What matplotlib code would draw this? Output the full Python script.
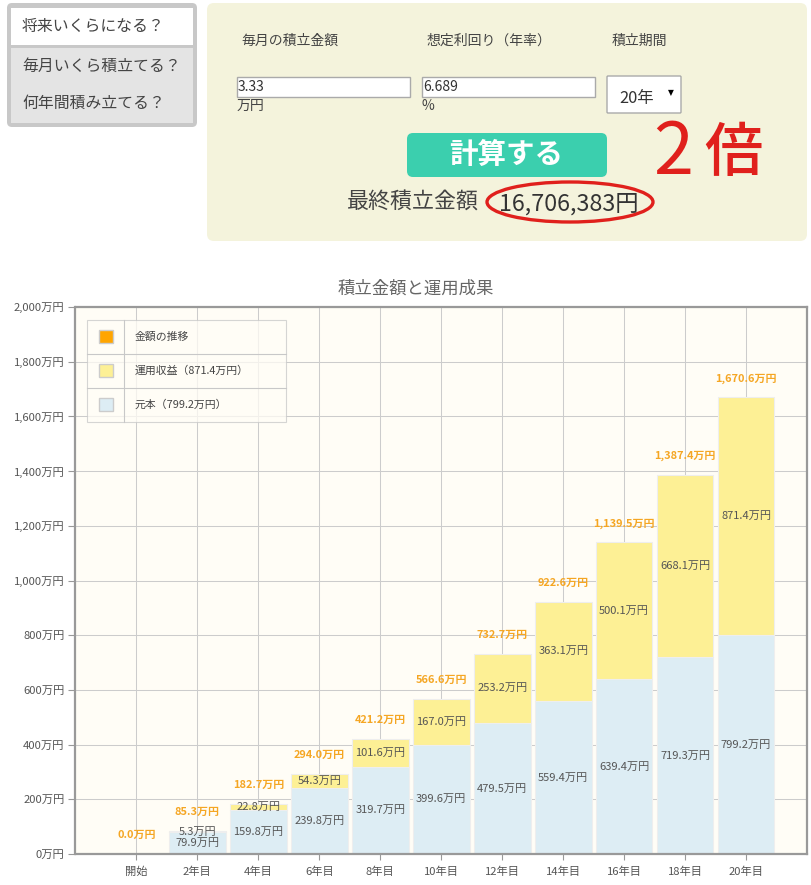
import matplotlib
matplotlib.use('Agg')
import matplotlib.pyplot as plt
from matplotlib.patches import FancyBboxPatch, Rectangle, Ellipse

plt.rcParams['font.family'] = ['Noto Sans CJK JP', 'DejaVu Sans']

categories = ['開始', '2年目', '4年目', '6年目', '8年目', '10年目', '12年目', '14年目', '16年目', '18年目', '20年目']
principal = [0.0, 79.9, 159.8, 239.8, 319.7, 399.6, 479.5, 559.4, 639.4, 719.3, 799.2]
gains = [0.0, 5.3, 22.8, 54.3, 101.6, 167.0, 253.2, 363.1, 500.1, 668.1, 871.4]
totals = [0.0, 85.3, 182.7, 294.0, 421.2, 566.6, 732.7, 922.6, 1139.5, 1387.4, 1670.6]
y_ticks = list(range(0, 2001, 200))
legend_labels = ['金額の推移', '運用収益（871.4万円）', '元本（799.2万円）']

W, H = 812, 885
TEXT = '#555555'
ORANGE = '#f5a623'
YELLOW = '#fdf095'
BLUE = '#ddedf4'

fig = plt.figure(figsize=(W / 100, H / 100), dpi=100, facecolor='white')

# chart, positioned in pixels
L, R, T, B = 75.5, 807, 307, 854
ax = fig.add_axes([L / W, 1 - B / H, (R - L) / W, (B - T) / H], facecolor='#fffdf6')
x = list(range(len(categories)))
ax.bar(x, principal, width=0.93, color=BLUE, edgecolor='#eeeeee', linewidth=0.8, zorder=3)
ax.bar(x, gains, width=0.93, bottom=principal, color=YELLOW, edgecolor='#eeeeee', linewidth=0.8, zorder=3)
ax.set_xlim(-1, 11)
ax.set_ylim(0, 2000)
ax.set_xticks(x, categories)
ax.set_yticks(y_ticks, [f'{v:,}万円' for v in y_ticks])
ax.grid(True, color='#cccccc', linewidth=0.75, zorder=0)
ax.set_axisbelow(True)
ax.tick_params(axis='y', length=5, color='#999999', labelcolor=TEXT, labelsize=8.1, pad=3)
ax.tick_params(axis='x', length=4, color='#999999', labelcolor=TEXT, labelsize=8.1, pad=5)
for s in ax.spines.values():
    s.set_color('#999999')
    s.set_linewidth(1.6)
    s.set_zorder(5)

for i in x:
    ax.annotate(f'{totals[i]:,.1f}万円', (i, totals[i]), xytext=(0, 13.5), textcoords='offset points',
                ha='center', va='center', color=ORANGE, fontsize=7.9, fontweight='bold', zorder=6)
    if principal[i] > 0:
        ax.text(i, principal[i] / 2, f'{principal[i]:.1f}万円', ha='center', va='center',
                color=TEXT, fontsize=8, zorder=6)
        ax.text(i, principal[i] + gains[i] / 2, f'{gains[i]:.1f}万円', ha='center', va='center',
                color=TEXT, fontsize=8, zorder=6)

# overlay in pixel coordinates for the form and legend
ov = fig.add_axes([0, 0, 1, 1], facecolor='none')
ov.set_xlim(0, W)
ov.set_ylim(H, 0)
ov.axis('off')


def box(x0, y0, x1, y1, color, r=4, edge='none', lw=0):
    ov.add_patch(FancyBboxPatch((x0 + r, y0 + r), x1 - x0 - 2 * r, y1 - y0 - 2 * r,
                                boxstyle=f'round,pad={r},rounding_size={r}',
                                facecolor=color, edgecolor=edge, linewidth=lw))


# left tabs
box(7, 3, 197, 127, '#c8c8c8', r=5)
ov.add_patch(Rectangle((11, 8), 182, 37, facecolor='white'))
ov.add_patch(Rectangle((11, 48), 182, 75, facecolor='#e4e4e4'))
for label, y in zip(['将来いくらになる？', '毎月いくら積立てる？', '何年間積み立てる？'], [26.5, 66, 103.5]):
    ov.text(22, y, label, fontsize=11.4, color='#444444', va='center')

# form panel
box(207, 3, 807, 241, '#f4f3dc', r=7)
for label, px in zip(['毎月の積立金額', '想定利回り（年率）', '積立期間'], [241, 427, 612]):
    ov.text(px, 41, label, fontsize=10, color='#444444', va='center')
for px, val, unit in zip([237, 422], ['3.33', '6.689'], ['万円', '%']):
    ov.add_patch(Rectangle((px, 76.5), 173, 20.5, facecolor='white', edgecolor='#aaaaaa', linewidth=1))
    ov.text(px + 1, 87, val, fontsize=10, color='#333333', va='center')
    ov.text(px, 105.5, unit, fontsize=10, color='#444444', va='center')
box(607, 76, 681, 113, 'white', r=1, edge='#aaaaaa', lw=1)
ov.text(619, 98, '20年', fontsize=11.8, color='#333333', va='center')
ov.text(671, 93, '▼', fontsize=5.5, color='black', va='center', ha='center', family='DejaVu Sans')
box(407, 133, 607, 177, '#3bcfae', r=6)
ov.text(506, 155, '計算する', fontsize=20.5, color='white', fontweight='bold', ha='center', va='center')
ov.text(347, 203, '最終積立金額', fontsize=15.8, color='#444444', va='center')
ov.text(499, 204, '16,706,383円', fontsize=16.8, color='#333333', va='center')

# red marker notes
ov.add_patch(Ellipse((570, 202), 166, 40, fill=False, edgecolor='#e0201c', linewidth=2.4))
ov.text(673, 153, '2', fontsize=52, color='#e0201c', ha='center', va='center', fontweight='normal')
ov.text(733, 154, '倍', fontsize=42, color='#e0201c', ha='center', va='center', fontweight='medium')

# chart title
ov.text(416, 289, '積立金額と運用成果', fontsize=12.5, color='#666666', ha='center', va='center')

# legend table
ov.add_patch(Rectangle((87, 319.5), 199, 102, facecolor='#fffdf6', alpha=0.75, edgecolor='#c8c8c8', linewidth=0.8))
ov.plot([124.5, 124.5], [319.5, 421.5], color='#c8c8c8', linewidth=0.8)
for y in [353.5, 387.5]:
    ov.plot([87, 286], [y, y], color='#c8c8c8', linewidth=0.8)
for label, color, y in zip(legend_labels, ['#ffa500', YELLOW, BLUE], [336.5, 370.5, 404.5]):
    ov.add_patch(Rectangle((99, y - 6.5), 14, 13, facecolor=color, edgecolor='#cccccc', linewidth=1))
    ov.text(135, y + 0.5, label, fontsize=7.8, color='#444444', va='center')

fig.savefig('out.png', dpi=100)
